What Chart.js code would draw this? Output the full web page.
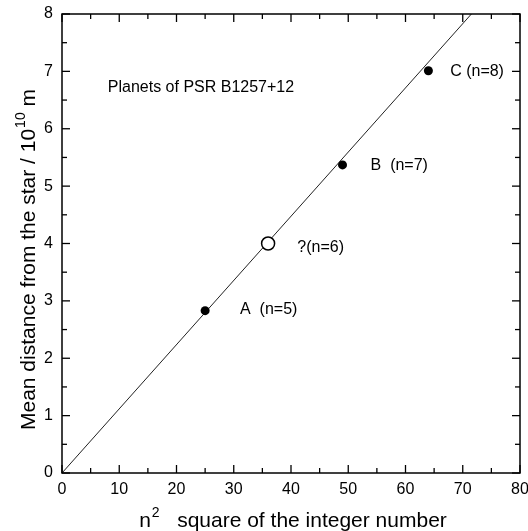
<!DOCTYPE html>
<html>
<head>
<meta charset="utf-8">
<script src="https://cdn.jsdelivr.net/npm/chart.js@4.4.1/dist/chart.umd.min.js"></script>
<style>
html,body{margin:0;padding:0;background:#fff;}
canvas{display:block;}
</style>
</head>
<body>
<canvas id="c" width="528" height="531"></canvas>
<script>
// ---- data ----
const planetNames = ["A  (n=5)", "B  (n=7)", "C (n=8)"];
const planetX = [25, 49, 64];          // n^2
const planetY = [2.83, 5.37, 7.01];    // mean distance / 1e10 m
const predictedName = "?(n=6)";
const predictedX = [36];
const predictedY = [4.0];
const fitX = [0, 80];
const fitY = [0, 8.95];
const labelX = [31.1, 53.9, 67.8];
const labelY = [2.84, 5.35, 6.99];
const predictedLabelX = 41.1, predictedLabelY = 3.92;
const chartTitle = "Planets of PSR B1257+12";
const titleX = 8.0, titleY = 6.71;
const xTicks = [0, 10, 20, 30, 40, 50, 60, 70, 80];
const xMinor = [5, 15, 25, 35, 45, 55, 65, 75];
const yTicks = [0, 1, 2, 3, 4, 5, 6, 7, 8];
const yMinor = [0.5, 1.5, 2.5, 3.5, 4.5, 5.5, 6.5, 7.5];

const FONT = "'Liberation Sans', Arial, Helvetica, sans-serif";

const deco = {
  id: 'deco',
  afterDraw(chart) {
    const {ctx, chartArea: a, scales: {x, y}} = chart;
    ctx.save();
    ctx.strokeStyle = '#000';
    ctx.fillStyle = '#000';
    ctx.lineWidth = 1.5;
    ctx.strokeRect(a.left, a.top, a.right - a.left, a.bottom - a.top);
    const seg = (x1, y1, x2, y2) => { ctx.beginPath(); ctx.moveTo(x1, y1); ctx.lineTo(x2, y2); ctx.stroke(); };
    ctx.lineWidth = 1.3;
    xTicks.forEach(v => { const p = x.getPixelForValue(v); seg(p, a.bottom, p, a.bottom - 8); seg(p, a.top, p, a.top + 8); });
    xMinor.forEach(v => { const p = x.getPixelForValue(v); seg(p, a.bottom, p, a.bottom - 5); seg(p, a.top, p, a.top + 5); });
    yTicks.forEach(v => { const p = y.getPixelForValue(v); seg(a.left, p, a.left + 8, p); seg(a.right, p, a.right - 8, p); });
    yMinor.forEach(v => { const p = y.getPixelForValue(v); seg(a.left, p, a.left + 5, p); seg(a.right, p, a.right - 5, p); });

    // tick labels
    ctx.font = "16px " + FONT;
    ctx.textAlign = 'center'; ctx.textBaseline = 'middle';
    xTicks.forEach(v => ctx.fillText(String(v), x.getPixelForValue(v), a.bottom + 17));
    ctx.textAlign = 'right';
    yTicks.forEach(v => ctx.fillText(String(v), a.left - 9, y.getPixelForValue(v)));

    // annotations
    ctx.font = "16px " + FONT;
    ctx.textAlign = 'left'; ctx.textBaseline = 'middle';
    planetNames.forEach((t, i) => ctx.fillText(t, x.getPixelForValue(labelX[i]), y.getPixelForValue(labelY[i])));
    ctx.fillText(predictedName, x.getPixelForValue(predictedLabelX), y.getPixelForValue(predictedLabelY));
    ctx.font = "16px " + FONT;
    ctx.fillText(chartTitle, x.getPixelForValue(titleX), y.getPixelForValue(titleY));

    // x axis title: n^2  square of the integer number
    const big = "21px " + FONT, sup = "14px " + FONT;
    const base = 527;
    ctx.textBaseline = 'alphabetic'; ctx.textAlign = 'left';
    ctx.font = big; const wN = ctx.measureText("n").width;
    ctx.font = sup; const w2 = ctx.measureText("2").width;
    ctx.font = big; const rest = "   square of the integer number"; const wR = ctx.measureText(rest).width;
    const total = wN + w2 + wR;
    let sx = 292.5 - total / 2;
    ctx.font = big; ctx.fillText("n", sx, base); sx += wN + 1;
    ctx.font = sup; ctx.fillText("2", sx, base - 10); sx += w2;
    ctx.font = big; ctx.fillText(rest, sx, base);

    // y axis title (rotated)
    ctx.save();
    ctx.translate(35, 260);
    ctx.rotate(-Math.PI / 2);
    const p1 = "Mean distance from the star / 10", p2 = "10", p3 = " m";
    ctx.font = big; const w1 = ctx.measureText(p1).width;
    ctx.font = sup; const wp2 = ctx.measureText(p2).width;
    ctx.font = big; const w3 = ctx.measureText(p3).width;
    let tx = -(w1 + wp2 + w3) / 2;
    ctx.font = big; ctx.fillText(p1, tx, 0); tx += w1 + 1;
    ctx.font = sup; ctx.fillText(p2, tx, -10); tx += wp2;
    ctx.font = big; ctx.fillText(p3, tx, 0);
    ctx.restore();

    ctx.restore();
  }
};

new Chart(document.getElementById('c'), {
  type: 'scatter',
  data: {
    datasets: [
      {
        label: 'Known planets',
        data: planetX.map((v, i) => ({x: v, y: planetY[i]})),
        pointRadius: 4.5, pointHoverRadius: 4.5,
        backgroundColor: '#000', borderColor: '#000', borderWidth: 0,
        order: 1
      },
      {
        label: 'Predicted',
        data: predictedX.map((v, i) => ({x: v, y: predictedY[i]})),
        pointRadius: 6.5, pointHoverRadius: 6.5,
        backgroundColor: '#fff', borderColor: '#000', borderWidth: 1.5,
        order: 1
      },
      {
        type: 'line',
        label: 'Fit',
        data: fitX.map((v, i) => ({x: v, y: fitY[i]})),
        showLine: true, pointRadius: 0, borderColor: '#222', borderWidth: 1,
        fill: false, order: 3
      }
    ]
  },
  options: {
    responsive: false,
    animation: false,
    layout: {padding: {left: 62, right: 5, top: 14, bottom: 58}},
    plugins: {legend: {display: false}, tooltip: {enabled: false}, title: {display: false}},
    scales: {
      x: {type: 'linear', min: 0, max: 80, display: false},
      y: {type: 'linear', min: 0, max: 8, display: false}
    }
  },
  plugins: [deco]
});
</script>
</body>
</html>
